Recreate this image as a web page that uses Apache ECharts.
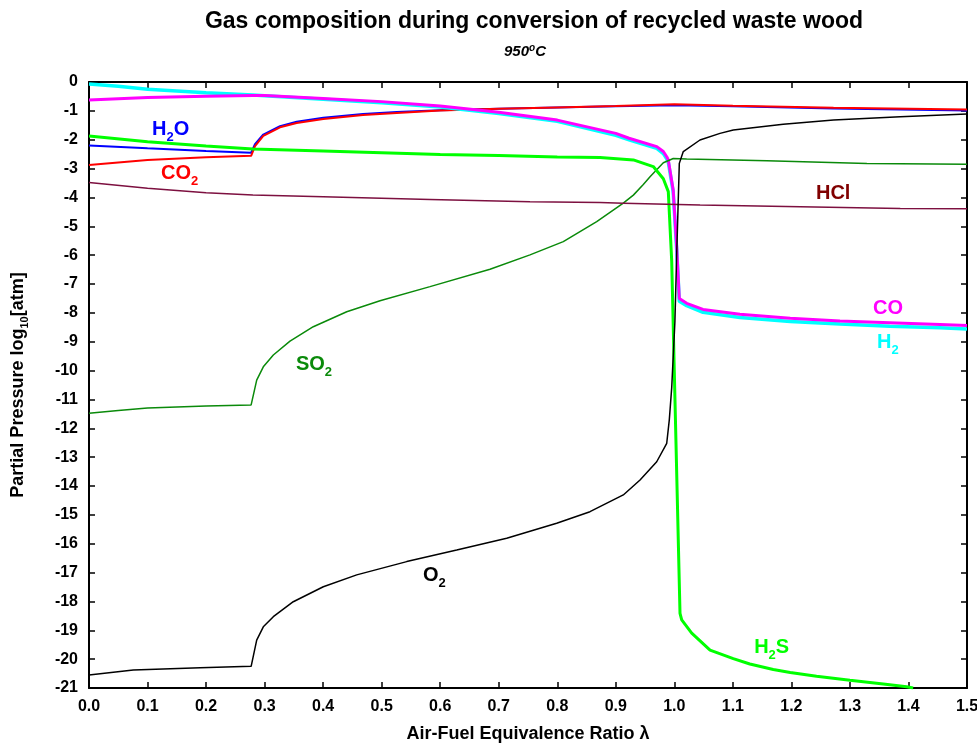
<!DOCTYPE html>
<html><head><meta charset="utf-8">
<script src="https://cdn.jsdelivr.net/npm/echarts@6/dist/echarts.min.js"></script>
<style>html,body{margin:0;padding:0;background:#fff}#c{width:977px;height:744px}</style>
</head><body><div id="c"></div>
<script>
// ---- data (λ = air-fuel equivalence ratio, values = log10 partial pressure) ----
const xTickLabels = ['0.0','0.1','0.2','0.3','0.4','0.5','0.6','0.7','0.8','0.9','1.0','1.1','1.2','1.3','1.4','1.5'];

const h2oX = [0, 0.1, 0.2, 0.277, 0.2836, 0.2978, 0.3263, 0.3548, 0.4003, 0.4681, 0.5257, 0.5997, 0.70, 0.799, 0.8998, 1.0, 1.1, 1.272, 1.5];
const h2oY = [-2.20, -2.30, -2.39, -2.45, -2.15, -1.82, -1.53, -1.38, -1.24, -1.11, -1.04, -0.98, -0.93, -0.88, -0.84, -0.81, -0.84, -0.92, -0.99];

const co2X = [0, 0.1, 0.2, 0.277, 0.2836, 0.2978, 0.3263, 0.3548, 0.4003, 0.4681, 0.5257, 0.5997, 0.70, 0.799, 0.8998, 1.0, 1.1, 1.272, 1.5];
const co2Y = [-2.88, -2.70, -2.61, -2.56, -2.22, -1.87, -1.57, -1.42, -1.28, -1.14, -1.07, -0.99, -0.93, -0.88, -0.83, -0.77, -0.82, -0.89, -0.95];

const h2X = [0, 0.05, 0.1, 0.2, 0.28, 0.3, 0.4, 0.5, 0.6, 0.7, 0.8, 0.9, 0.9226, 0.97, 0.9812, 0.987, 0.9897, 0.998, 1.004, 1.0085, 1.0211, 1.049, 1.112, 1.198, 1.283, 1.368, 1.454, 1.5];
const h2Y = [-0.07, -0.15, -0.25, -0.37, -0.45, -0.48, -0.60, -0.72, -0.87, -1.09, -1.36, -1.85, -2.00, -2.30, -2.48, -2.66, -2.78, -3.80, -5.80, -7.60, -7.75, -7.98, -8.16, -8.30, -8.39, -8.46, -8.52, -8.56];

const coX = [0, 0.1, 0.2, 0.28, 0.3, 0.4, 0.5, 0.6, 0.7, 0.8, 0.9, 0.9226, 0.97, 0.9812, 0.987, 0.9897, 0.998, 1.004, 1.0085, 1.0211, 1.049, 1.112, 1.198, 1.283, 1.368, 1.454, 1.5];
const coY = [-0.62, -0.54, -0.49, -0.47, -0.47, -0.57, -0.68, -0.83, -1.05, -1.32, -1.78, -1.95, -2.24, -2.41, -2.59, -2.70, -3.74, -5.70, -7.50, -7.67, -7.88, -8.05, -8.19, -8.28, -8.34, -8.40, -8.44];

const h2sX = [0, 0.1, 0.2, 0.28, 0.4, 0.5, 0.6, 0.7, 0.8, 0.873, 0.93, 0.964, 0.9812, 0.9897, 0.9955, 1.0097, 1.0126, 1.0297, 1.061, 1.1007, 1.129, 1.169, 1.198, 1.243, 1.30, 1.357, 1.397, 1.408];
const h2sY = [-1.87, -2.07, -2.22, -2.32, -2.39, -2.45, -2.51, -2.55, -2.60, -2.62, -2.70, -2.93, -3.35, -3.80, -6.20, -18.41, -18.64, -19.10, -19.69, -19.98, -20.17, -20.36, -20.46, -20.59, -20.73, -20.86, -20.96, -21.0];

const so2X = [0, 0.05, 0.1, 0.2, 0.277, 0.2865, 0.2978, 0.3149, 0.3434, 0.3832, 0.4403, 0.4972, 0.5826, 0.6851, 0.7534, 0.8103, 0.8674, 0.9128, 0.93, 0.947, 0.9585, 0.9812, 0.9982, 1.0211, 1.158, 1.329, 1.5];
const so2Y = [-11.48, -11.38, -11.30, -11.23, -11.19, -10.33, -9.87, -9.46, -8.98, -8.48, -7.96, -7.58, -7.09, -6.49, -5.99, -5.53, -4.84, -4.20, -3.92, -3.55, -3.28, -2.80, -2.65, -2.67, -2.73, -2.82, -2.85];

const hclX = [0, 0.1, 0.2, 0.28, 0.4, 0.5826, 0.7534, 0.873, 0.9128, 1.044, 1.215, 1.386, 1.5];
const hclY = [-3.48, -3.68, -3.84, -3.92, -3.98, -4.07, -4.15, -4.18, -4.20, -4.26, -4.32, -4.38, -4.39];

const o2X = [0, 0.0757, 0.19, 0.277, 0.2865, 0.2978, 0.3149, 0.349, 0.4003, 0.4574, 0.5428, 0.6282, 0.7136, 0.799, 0.8559, 0.9128, 0.9414, 0.9699, 0.987, 0.9914, 0.9955, 1.001, 1.004, 1.0085, 1.0153, 1.0438, 1.078, 1.1007, 1.186, 1.272, 1.386, 1.5];
const o2Y = [-20.55, -20.38, -20.30, -20.25, -19.34, -18.88, -18.53, -18.01, -17.49, -17.08, -16.62, -16.22, -15.81, -15.29, -14.89, -14.31, -13.79, -13.16, -12.52, -11.71, -10.60, -8.30, -6.00, -2.82, -2.41, -2.01, -1.78, -1.66, -1.46, -1.32, -1.20, -1.11];

// ---- build ----
const FONT = '"Liberation Sans", Arial, Helvetica, sans-serif';
const zip = (xs, ys) => xs.map((x, i) => [x, ys[i]]);

const seriesDefs = [
  { name: 'H2O', x: h2oX, y: h2oY, color: '#0000ff', width: 2 },
  { name: 'CO2', x: co2X, y: co2Y, color: '#ff0000', width: 2 },
  { name: 'H2',  x: h2X,  y: h2Y,  color: '#00ffff', width: 3.5 },
  { name: 'CO',  x: coX,  y: coY,  color: '#ff00ff', width: 3 },
  { name: 'SO2', x: so2X, y: so2Y, color: '#0a8a0a', width: 1.5 },
  { name: 'H2S', x: h2sX, y: h2sY, color: '#00ff00', width: 3 },
  { name: 'HCl', x: hclX, y: hclY, color: '#7d1040', width: 1.5 },
  { name: 'O2',  x: o2X,  y: o2Y,  color: '#000000', width: 1.5 }
];

const chart = echarts.init(document.getElementById('c'), null, { renderer: 'canvas' });

const tickCommon = { inside: true, length: 6, lineStyle: { color: '#000', width: 1.5 } };
const lineCommon = { show: true, onZero: false, lineStyle: { color: '#000', width: 2 } };

const option = {
  backgroundColor: '#ffffff',
  animation: false,
  grid: { left: 89, right: 10, top: 82, bottom: 56, containLabel: false, outerBoundsMode: 'none' },
  xAxis: [
    { type: 'value', min: 0, max: 1.5, interval: 0.1, position: 'bottom',
      axisLine: lineCommon, axisTick: tickCommon, splitLine: { show: false },
      axisLabel: { formatter: (v) => xTickLabels[Math.round(v * 10)], fontSize: 16, fontWeight: 'bold', color: '#000', fontFamily: FONT, margin: 11, showMaxLabel: true, showMinLabel: true },
      name: 'Air-Fuel Equivalence Ratio λ', nameLocation: 'middle', nameGap: 37,
      nameTextStyle: { fontSize: 18, fontWeight: 'bold', color: '#000', fontFamily: FONT } },
    { type: 'value', min: 0, max: 1.5, interval: 0.1, position: 'top',
      axisLine: lineCommon, axisTick: tickCommon, splitLine: { show: false }, axisLabel: { show: false } }
  ],
  yAxis: [
    { type: 'value', min: -21, max: 0, interval: 1, position: 'left',
      axisLine: lineCommon, axisTick: tickCommon, splitLine: { show: false },
      axisLabel: { fontSize: 16, fontWeight: 'bold', color: '#000', fontFamily: FONT, margin: 11 } },
    { type: 'value', min: -21, max: 0, interval: 1, position: 'right',
      axisLine: lineCommon, axisTick: tickCommon, splitLine: { show: false }, axisLabel: { show: false } }
  ],
  series: seriesDefs.map(s => ({
    name: s.name, type: 'line', xAxisIndex: 0, yAxisIndex: 0,
    data: zip(s.x, s.y), showSymbol: false, symbol: 'none', smooth: false,
    lineStyle: { color: s.color, width: s.width }, itemStyle: { color: s.color },
    emphasis: { disabled: true }, silent: true
  }))
};
chart.setOption(option);

// ---- annotations (curve labels anchored in data coordinates) ----
function rich(color, size) {
  return {
    m: { fontSize: size, fontWeight: 'bold', fontFamily: FONT, fill: color, color: color, lineHeight: 22 },
    s: { fontSize: 13, fontWeight: 'bold', fontFamily: FONT, fill: color, color: color, lineHeight: 6, height: 6, verticalAlign: 'bottom' }
  };
}
const curveLabels = [
  { text: '{m|H}{s|2}{m|O}', at: [0.1076, -1.594], color: '#0000ff' },
  { text: '{m|CO}{s|2}',     at: [0.123, -3.119],  color: '#ff0000' },
  { text: '{m|HCl}',         at: [1.242, -3.812],  color: '#800000' },
  { text: '{m|SO}{s|2}',     at: [0.3536, -9.738], color: '#0a8a0a' },
  { text: '{m|CO}',          at: [1.3394, -7.798], color: '#ff00ff' },
  { text: '{m|H}{s|2}',      at: [1.3463, -8.976], color: '#00ffff' },
  { text: '{m|O}{s|2}',      at: [0.5706, -17.05], color: '#000000' },
  { text: '{m|H}{s|2}{m|S}', at: [1.1364, -19.57], color: '#00ff00' }
];
const graphics = curveLabels.map(l => {
  const p = chart.convertToPixel({ xAxisIndex: 0, yAxisIndex: 0 }, l.at);
  return { type: 'text', x: p[0], y: p[1] + 1, z: 100,
    style: { text: l.text, align: 'left', verticalAlign: 'middle', rich: rich(l.color, 20) } };
});
const gridRect = chart.getModel().getComponent('grid', 0).coordinateSystem.getRect();
const cx = gridRect.x + gridRect.width / 2 + 6;
graphics.push({ type: 'text', x: cx, y: 22, z: 100,
  style: { text: 'Gas composition during conversion of recycled waste wood', align: 'center', verticalAlign: 'middle',
    fontSize: 23, fontWeight: 'bold', fontFamily: FONT, fill: '#000' } });
graphics.push({ type: 'text', x: cx - 9, y: 52, z: 100,
  style: { text: '{m|950}{o|o}{m|C}', align: 'center', verticalAlign: 'middle',
    rich: {
      m: { fontSize: 15, fontWeight: 'bold', fontStyle: 'italic', fontFamily: FONT, fill: '#000', lineHeight: 17 },
      o: { fontSize: 10, fontWeight: 'bold', fontStyle: 'italic', fontFamily: FONT, fill: '#000', lineHeight: 9, height: 9, verticalAlign: 'top' }
    } } });
graphics.push({ type: 'text', x: 18, y: gridRect.y + gridRect.height / 2, rotation: Math.PI / 2, z: 100,
  style: { text: '{m|Partial Pressure log}{s|10}{m|[atm]}', align: 'center', verticalAlign: 'middle',
    rich: {
      m: { fontSize: 18, fontWeight: 'bold', fontFamily: FONT, fill: '#000', lineHeight: 20 },
      s: { fontSize: 11, fontWeight: 'bold', fontFamily: FONT, fill: '#000', lineHeight: 6, height: 6, verticalAlign: 'bottom' }
    } } });
chart.setOption({ graphic: graphics });
</script></body></html>
